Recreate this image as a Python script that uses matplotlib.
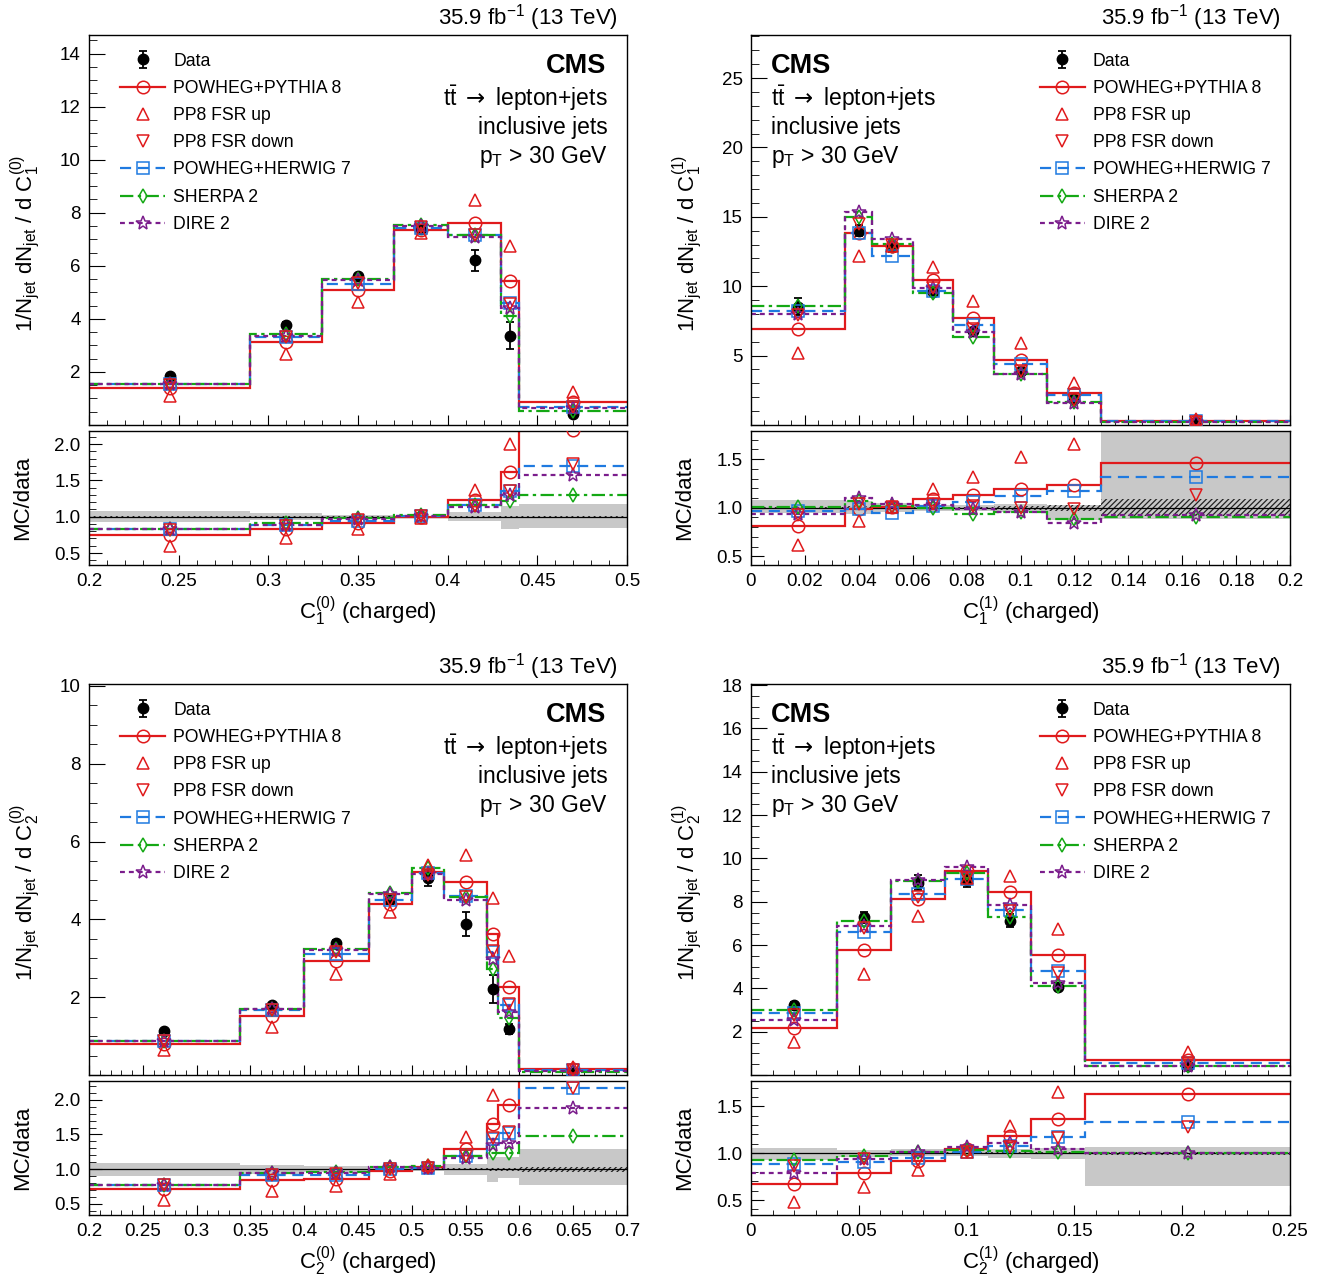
import numpy as np
import matplotlib
matplotlib.use("Agg")
import matplotlib.pyplot as plt
from matplotlib.lines import Line2D
from matplotlib.ticker import MultipleLocator, FuncFormatter

plt.rcParams['font.family'] = ['Liberation Sans', 'DejaVu Sans']
plt.rcParams['mathtext.fontset'] = 'custom'
plt.rcParams['mathtext.rm'] = 'Liberation Sans'
plt.rcParams['mathtext.it'] = 'Liberation Sans:italic'
plt.rcParams['mathtext.bf'] = 'Liberation Sans:bold'
plt.rcParams['mathtext.sf'] = 'DejaVu Sans'
plt.rcParams['hatch.linewidth'] = 0.9

# ---- C1^(0) ----
c10_edges = [0.2, 0.29, 0.33, 0.37, 0.40, 0.43, 0.44, 0.5]
c10_data = [1.86, 3.78, 5.61, 7.38, 6.21, 3.37, 0.40]
c10_err = [0.06, 0.10, 0.10, 0.12, 0.40, 0.52, 0.05]
c10_pp8 = [1.39, 3.12, 5.09, 7.34, 7.63, 5.44, 0.88]
c10_fsrup = [1.11, 2.68, 4.65, 7.22, 8.47, 6.74, 1.26]
c10_fsrdown = [1.52, 3.30, 5.35, 7.45, 7.15, 4.55, 0.69]
c10_herwig = [1.54, 3.33, 5.31, 7.43, 7.18, 4.58, 0.68]
c10_sherpa = [1.54, 3.43, 5.51, 7.54, 7.18, 4.11, 0.52]
c10_dire = [1.54, 3.37, 5.47, 7.49, 7.07, 4.40, 0.63]
c10_band_lo = [0.925, 0.955, 0.97, 0.985, 0.935, 0.83, 0.84]
c10_band_hi = [1.075, 1.045, 1.03, 1.015, 1.065, 1.15, 1.17]
c10_stat = [0.005, 0.008, 0.008, 0.008, 0.010, 0.015, 0.012]

# ---- C1^(1) ----
c11_edges = [0.0, 0.035, 0.045, 0.06, 0.075, 0.09, 0.11, 0.13, 0.2]
c11_data = [8.52, 14.0, 12.85, 9.55, 6.79, 3.90, 1.85, 0.20]
c11_err = [0.60, 0.40, 0.35, 0.25, 0.20, 0.15, 0.10, 0.02]
c11_pp8 = [6.95, 13.8, 12.88, 10.45, 7.70, 4.67, 2.28, 0.292]
c11_fsrup = [5.22, 12.15, 12.9, 11.4, 8.95, 5.94, 3.06, 0.40]
c11_fsrdown = [7.90, 14.5, 13.0, 9.90, 6.90, 3.90, 1.82, 0.226]
c11_herwig = [8.20, 13.8, 12.2, 9.67, 7.20, 4.38, 2.16, 0.264]
c11_sherpa = [8.59, 15.02, 13.04, 9.48, 6.35, 3.71, 1.63, 0.181]
c11_dire = [7.99, 15.33, 13.4, 9.84, 6.67, 3.71, 1.55, 0.184]
c11_band_lo = [0.95, 0.94, 0.955, 0.97, 0.97, 0.96, 0.87, 0.88]
c11_band_hi = [1.08, 1.07, 1.045, 1.03, 1.03, 1.04, 1.03, 1.90]
c11_stat = [0.010, 0.015, 0.012, 0.010, 0.012, 0.020, 0.030, 0.090]

# ---- C2^(0) ----
c20_edges = [0.2, 0.34, 0.40, 0.46, 0.50, 0.53, 0.57, 0.58, 0.60, 0.70]
c20_data = [1.12, 1.80, 3.40, 4.52, 5.06, 3.87, 2.20, 1.18, 0.060]
c20_err = [0.04, 0.05, 0.08, 0.12, 0.20, 0.31, 0.36, 0.12, 0.01]
c20_pp8 = [0.80, 1.52, 2.94, 4.39, 5.23, 4.97, 3.62, 2.27, 0.16]
c20_fsrup = [0.63, 1.24, 2.60, 4.20, 5.40, 5.66, 4.55, 3.06, 0.20]
c20_fsrdown = [0.87, 1.66, 3.15, 4.50, 5.15, 4.58, 3.19, 1.82, 0.130]
c20_herwig = [0.87, 1.66, 3.11, 4.50, 5.18, 4.61, 3.17, 1.80, 0.130]
c20_sherpa = [0.87, 1.69, 3.25, 4.67, 5.31, 4.58, 2.72, 1.46, 0.089]
c20_dire = [0.87, 1.69, 3.21, 4.64, 5.16, 4.50, 2.98, 1.63, 0.113]
c20_band_lo = [0.90, 0.935, 0.96, 0.98, 0.97, 0.92, 0.81, 0.87, 0.77]
c20_band_hi = [1.09, 1.065, 1.04, 1.02, 1.03, 1.08, 1.17, 1.18, 1.29]
c20_stat = [0.005, 0.008, 0.008, 0.008, 0.010, 0.015, 0.020, 0.020, 0.035]

# ---- C2^(1) ----
c21_edges = [0.0, 0.04, 0.065, 0.09, 0.11, 0.13, 0.155, 0.25]
c21_data = [3.23, 7.28, 8.87, 8.98, 7.12, 4.08, 0.42]
c21_err = [0.15, 0.25, 0.35, 0.30, 0.30, 0.15, 0.03]
c21_pp8 = [2.15, 5.75, 8.13, 9.41, 8.45, 5.55, 0.685]
c21_fsrup = [1.54, 4.65, 7.32, 9.10, 9.18, 6.75, 1.04]
c21_fsrdown = [2.78, 6.80, 8.20, 9.10, 7.55, 4.73, 0.535]
c21_herwig = [2.85, 6.60, 8.37, 9.05, 7.63, 4.78, 0.56]
c21_sherpa = [2.99, 7.09, 8.94, 9.33, 7.28, 4.13, 0.42]
c21_dire = [2.54, 6.86, 8.99, 9.61, 7.87, 4.25, 0.42]
c21_band_lo = [0.93, 0.96, 0.97, 0.965, 0.95, 0.94, 0.65]
c21_band_hi = [1.06, 1.035, 1.04, 1.035, 1.04, 1.06, 1.07]
c21_stat = [0.005, 0.006, 0.006, 0.007, 0.008, 0.010, 0.015]

RED = '#e01a1c'
BLUE = '#1f7ae0'
GREEN = '#14a814'
PURPLE = '#7b1d8c'
GREY = '#c8c8c8'

# key, legend label, colour, linestyle, marker, markersize
mc_lines = [
    ('pp8', 'POWHEG+PYTHIA 8', RED, '-', 'o', 9),
    ('herwig', 'POWHEG+HERWIG 7', BLUE, (0, (5, 3)), 's', 8),
    ('sherpa', 'SHERPA 2', GREEN, (0, (6, 2, 1.5, 2)), 'd', 7.5),
    ('dire', 'DIRE 2', PURPLE, (0, (2.2, 1.8)), '*', 10.5),
]
mc_points = [
    ('fsrup', 'PP8 FSR up', RED, '^', 9),
    ('fsrdown', 'PP8 FSR down', RED, 'v', 9),
]

W, H = 1336, 1288
fig = plt.figure(figsize=(W / 100, H / 100), dpi=100)


def box(x0, y0, x1, y1):
    return [x0 / W, 1 - y1 / H, (x1 - x0) / W, (y1 - y0) / H]


def fmt_g(v, pos):
    return '%g' % round(v, 6)


def draw_panel(main_box, ratio_box, edges, data, err, mc, band_lo, band_hi, stat,
               xlim, ymax, rlim, xstep, xminor, ystep, yminor,
               xlabel, ylabel, text_left, legend_x):
    ax = fig.add_axes(main_box)
    rax = fig.add_axes(ratio_box, sharex=ax)
    edges = np.array(edges)
    centers = 0.5 * (edges[1:] + edges[:-1])
    data = np.array(data)

    # ratio uncertainty bands
    rax.stairs(band_hi, edges, baseline=band_lo, fill=True, color=GREY, lw=0, zorder=0.5)
    stat = np.array(stat)
    rax.stairs(1 + stat, edges, baseline=1 - stat, fill=True, facecolor='none',
               edgecolor='#222222', hatch='//////', lw=0, zorder=0.6)
    rax.axhline(1.0, color='black', lw=0.9, zorder=1)

    h_data = ax.errorbar(centers, data, yerr=err, fmt='o', color='black', ms=7.5,
                         capsize=3, elinewidth=1.3, capthick=1.3, zorder=3)

    handles = {}
    for key, label, color, ls, marker, ms in mc_lines:
        vals = np.array(mc[key])
        ax.stairs(vals, edges, baseline=None, color=color, ls=ls, lw=1.6, zorder=2)
        rax.stairs(vals / data, edges, baseline=None, color=color, ls=ls, lw=1.6, zorder=2)
        for a, v in ((ax, vals), (rax, vals / data)):
            a.plot(centers, v, ls='none', marker=marker, mfc='none', mec=color,
                   ms=ms, mew=1.1, zorder=4)
        handles[key] = Line2D([], [], color=color, ls=ls, lw=1.6, marker=marker,
                              mfc='none', mec=color, ms=ms, mew=1.1)
    for key, label, color, marker, ms in mc_points:
        vals = np.array(mc[key])
        for a, v in ((ax, vals), (rax, vals / data)):
            a.plot(centers, v, ls='none', marker=marker, mfc='none', mec=color,
                   ms=ms, mew=1.1, zorder=4)
        handles[key] = Line2D([], [], ls='none', marker=marker, mfc='none',
                              mec=color, ms=ms, mew=1.1)

    order = [(h_data, 'Data'), (handles['pp8'], 'POWHEG+PYTHIA 8'),
             (handles['fsrup'], 'PP8 FSR up'), (handles['fsrdown'], 'PP8 FSR down'),
             (handles['herwig'], 'POWHEG+HERWIG 7'), (handles['sherpa'], 'SHERPA 2'),
             (handles['dire'], 'DIRE 2')]
    ax.legend([h for h, _ in order], [l for _, l in order], loc='upper left',
              bbox_to_anchor=(legend_x, 0.955), frameon=False, fontsize=12.7,
              borderpad=0, borderaxespad=0, handlelength=2.56, handletextpad=0.45,
              labelspacing=0.58, numpoints=1)

    # limits and ticks
    ax.set_xlim(*xlim)
    ax.set_ylim(0, ymax)
    rax.set_ylim(*rlim)
    ax.xaxis.set_major_locator(MultipleLocator(xstep))
    ax.xaxis.set_minor_locator(MultipleLocator(xminor))
    ax.yaxis.set_major_locator(MultipleLocator(ystep))
    ax.yaxis.set_minor_locator(MultipleLocator(yminor))
    ax.yaxis.set_major_formatter(FuncFormatter(lambda v, p: '' if abs(v) < 1e-9 else '%g' % v))
    rax.yaxis.set_major_locator(MultipleLocator(0.5))
    rax.yaxis.set_minor_locator(MultipleLocator(0.1))
    rax.yaxis.set_major_formatter(FuncFormatter(lambda v, p: '%.1f' % v))
    rax.xaxis.set_major_formatter(FuncFormatter(fmt_g))
    ax.tick_params(axis='x', labelbottom=False)
    for a in (ax, rax):
        a.tick_params(which='both', direction='in', labelsize=13.5, pad=6)
        for s in a.spines.values():
            s.set_linewidth(1.0)
    ax.tick_params(axis='x', which='major', length=7.5)
    ax.tick_params(axis='x', which='minor', length=3.8)
    ax.tick_params(axis='y', which='major', length=11.5)
    ax.tick_params(axis='y', which='minor', length=5.8)
    rax.tick_params(axis='x', which='major', length=7)
    rax.tick_params(axis='x', which='minor', length=3.5)
    rax.tick_params(axis='y', which='major', length=9.5)
    rax.tick_params(axis='y', which='minor', length=5)

    ax.set_ylabel(ylabel, fontsize=16)
    ax.yaxis.set_label_coords(-0.087, 0.467)
    rax.set_ylabel('MC/data', fontsize=16)
    rax.yaxis.set_label_coords(-0.104, 0.5)
    rax.set_xlabel(xlabel, fontsize=16)
    rax.xaxis.set_label_coords(0.519, -0.22)

    ax.text(0.983, 1.027, r'35.9 fb$^{\mathrm{-1}}$ (13 TeV)', transform=ax.transAxes,
            ha='right', va='baseline', fontsize=16)
    if text_left:
        tx, ha = 0.037, 'left'
    else:
        tx, ha = 0.965, 'right'
    ax.text(tx - (0 if text_left else 0.004), 0.902, 'CMS', transform=ax.transAxes,
            ha=ha, va='baseline', fontsize=19.5, fontweight='bold')
    ax.text(tx, 0.818, r'$\mathrm{t\bar{t}}$ $\mathsf{\rightarrow}$ lepton+jets',
            transform=ax.transAxes, ha=ha, va='baseline', fontsize=16.5)
    ax.text(tx, 0.746, 'inclusive jets', transform=ax.transAxes,
            ha=ha, va='baseline', fontsize=16.5)
    ax.text(tx, 0.672, r'$\mathrm{p_{T}}$ > 30 GeV', transform=ax.transAxes,
            ha=ha, va='baseline', fontsize=16.5)


draw_panel(box(89, 35, 627, 425), box(89, 431, 627, 565),
           c10_edges, c10_data, c10_err,
           dict(pp8=c10_pp8, fsrup=c10_fsrup, fsrdown=c10_fsrdown,
                herwig=c10_herwig, sherpa=c10_sherpa, dire=c10_dire),
           c10_band_lo, c10_band_hi, c10_stat,
           (0.2, 0.5), 14.7, (0.335, 2.18), 0.05, 0.01, 2, 0.5,
           r'$\mathrm{C_{1}^{(0)}}$ (charged)',
           r'$\mathrm{1/N_{jet}\ dN_{jet}\ /\ d\ C_{1}^{(0)}}$', False, 0.0576)

draw_panel(box(751, 35, 1290, 425), box(751, 431, 1290, 565),
           c11_edges, c11_data, c11_err,
           dict(pp8=c11_pp8, fsrup=c11_fsrup, fsrdown=c11_fsrdown,
                herwig=c11_herwig, sherpa=c11_sherpa, dire=c11_dire),
           c11_band_lo, c11_band_hi, c11_stat,
           (0.0, 0.2), 28.1, (0.41, 1.79), 0.02, 0.005, 5, 1,
           r'$\mathrm{C_{1}^{(1)}}$ (charged)',
           r'$\mathrm{1/N_{jet}\ dN_{jet}\ /\ d\ C_{1}^{(1)}}$', True, 0.536)

draw_panel(box(89, 684, 627, 1075), box(89, 1081, 627, 1215),
           c20_edges, c20_data, c20_err,
           dict(pp8=c20_pp8, fsrup=c20_fsrup, fsrdown=c20_fsrdown,
                herwig=c20_herwig, sherpa=c20_sherpa, dire=c20_dire),
           c20_band_lo, c20_band_hi, c20_stat,
           (0.2, 0.7), 10.05, (0.34, 2.27), 0.05, 0.01, 2, 0.5,
           r'$\mathrm{C_{2}^{(0)}}$ (charged)',
           r'$\mathrm{1/N_{jet}\ dN_{jet}\ /\ d\ C_{2}^{(0)}}$', False, 0.0576)

draw_panel(box(751, 684, 1290, 1075), box(751, 1081, 1290, 1215),
           c21_edges, c21_data, c21_err,
           dict(pp8=c21_pp8, fsrup=c21_fsrup, fsrdown=c21_fsrdown,
                herwig=c21_herwig, sherpa=c21_sherpa, dire=c21_dire),
           c21_band_lo, c21_band_hi, c21_stat,
           (0.0, 0.25), 18.05, (0.34, 1.77), 0.05, 0.01, 2, 0.5,
           r'$\mathrm{C_{2}^{(1)}}$ (charged)',
           r'$\mathrm{1/N_{jet}\ dN_{jet}\ /\ d\ C_{2}^{(1)}}$', True, 0.536)

fig.savefig('out.png', dpi=100)
